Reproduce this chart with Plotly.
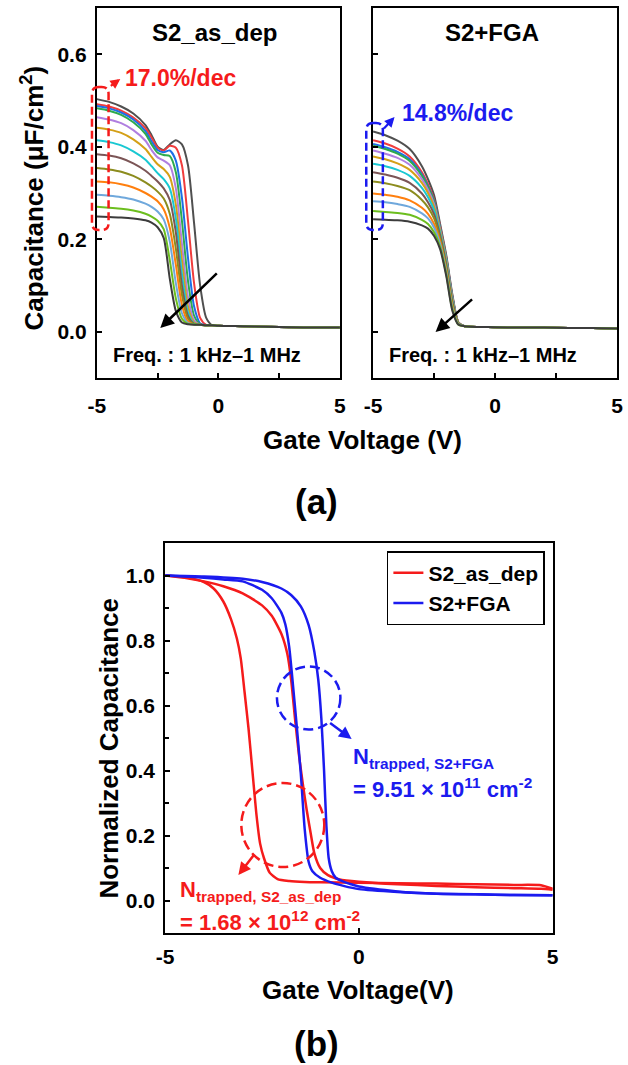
import plotly.graph_objects as go

W, H = 628, 1065
FONT = "Liberation Sans, Arial, sans-serif"

# ---------------- (a) left: S2_as_dep, 13 frequencies (1 kHz -> 1 MHz) ----------------
XA = [-5, -4.5, -4, -3.5, -3, -2.75, -2.5, -2.25, -2, -1.75, -1.5, -1.25, -1, -0.75, -0.5,
      -0.25, 0, 1, 2, 3, 4, 5]
TAIL_A = [0.014, 0.013, 0.012, 0.011, 0.010, 0.009, 0.009]
asdep_g1 = [0.503, 0.497, 0.487, 0.472, 0.447, 0.425, 0.400, 0.393, 0.405, 0.414, 0.405, 0.36, 0.235, 0.10, 0.03]
asdep_r = [0.492, 0.487, 0.478, 0.463, 0.440, 0.420, 0.398, 0.392, 0.402, 0.398, 0.36, 0.24, 0.105, 0.03, 0.015]
asdep_b = [0.488, 0.483, 0.474, 0.459, 0.434, 0.412, 0.393, 0.388, 0.392, 0.37, 0.29, 0.16, 0.055, 0.018, 0.014]
asdep_gr = [0.483, 0.478, 0.469, 0.453, 0.428, 0.405, 0.387, 0.382, 0.38, 0.345, 0.24, 0.11, 0.035, 0.016, 0.014]
asdep_p = [0.464, 0.459, 0.451, 0.436, 0.413, 0.393, 0.377, 0.37, 0.36, 0.31, 0.19, 0.075, 0.025, 0.015, 0.014]
asdep_au = [0.441, 0.437, 0.43, 0.416, 0.395, 0.378, 0.362, 0.352, 0.335, 0.275, 0.155, 0.055, 0.02, 0.015, 0.014]
asdep_c = [0.414, 0.41, 0.403, 0.39, 0.372, 0.358, 0.343, 0.33, 0.31, 0.245, 0.125, 0.042, 0.018, 0.015, 0.014]
asdep_br = [0.384, 0.381, 0.375, 0.364, 0.348, 0.337, 0.325, 0.31, 0.285, 0.215, 0.10, 0.034, 0.017, 0.015, 0.014]
asdep_o = [0.354, 0.351, 0.346, 0.337, 0.323, 0.314, 0.303, 0.288, 0.255, 0.18, 0.08, 0.028, 0.016, 0.015, 0.014]
asdep_or = [0.325, 0.323, 0.319, 0.312, 0.300, 0.292, 0.282, 0.265, 0.225, 0.145, 0.058, 0.022, 0.016, 0.015, 0.014]
asdep_lb = [0.296, 0.294, 0.291, 0.286, 0.277, 0.27, 0.26, 0.243, 0.195, 0.105, 0.04, 0.019, 0.016, 0.015, 0.014]
asdep_l = [0.27, 0.268, 0.266, 0.262, 0.255, 0.249, 0.24, 0.222, 0.155, 0.072, 0.028, 0.017, 0.016, 0.015, 0.014]
asdep_g2 = [0.249, 0.248, 0.247, 0.245, 0.241, 0.236, 0.226, 0.203, 0.115, 0.045, 0.02, 0.016, 0.015, 0.015, 0.014]

# ---------------- (a) right: S2+FGA ----------------
XB = [-5, -4.5, -4, -3.5, -3, -2.75, -2.5, -2.25, -2, -1.75, -1.5, -1.25, -1, 0, 1, 2, 3, 4, 5]
TAIL_B = [0.012, 0.011, 0.010, 0.009, 0.009, 0.008, 0.008, 0.007]
fga_g1 = [0.433, 0.425, 0.413, 0.395, 0.358, 0.33, 0.295, 0.232, 0.165, 0.08, 0.02]
fga_r = [0.414, 0.407, 0.396, 0.379, 0.345, 0.319, 0.286, 0.227, 0.16, 0.077, 0.02]
fga_b = [0.406, 0.399, 0.389, 0.373, 0.34, 0.315, 0.283, 0.224, 0.159, 0.075, 0.019]
fga_gr = [0.402, 0.395, 0.385, 0.369, 0.337, 0.313, 0.281, 0.223, 0.158, 0.074, 0.019]
fga_p = [0.392, 0.385, 0.376, 0.361, 0.33, 0.307, 0.276, 0.22, 0.155, 0.072, 0.019]
fga_au = [0.379, 0.373, 0.364, 0.350, 0.322, 0.3, 0.27, 0.217, 0.152, 0.07, 0.019]
fga_c = [0.363, 0.358, 0.35, 0.337, 0.311, 0.291, 0.263, 0.212, 0.148, 0.067, 0.018]
fga_br = [0.345, 0.34, 0.333, 0.322, 0.299, 0.28, 0.254, 0.207, 0.144, 0.064, 0.018]
fga_o = [0.325, 0.321, 0.315, 0.306, 0.285, 0.269, 0.245, 0.201, 0.139, 0.06, 0.017]
fga_or = [0.299, 0.296, 0.292, 0.284, 0.268, 0.255, 0.233, 0.194, 0.133, 0.055, 0.016]
fga_lb = [0.282, 0.28, 0.276, 0.27, 0.256, 0.245, 0.225, 0.189, 0.129, 0.052, 0.016]
fga_l = [0.261, 0.259, 0.257, 0.253, 0.242, 0.233, 0.215, 0.183, 0.124, 0.048, 0.015]
fga_g2 = [0.243, 0.242, 0.241, 0.238, 0.23, 0.223, 0.207, 0.178, 0.12, 0.045, 0.015]

FREQ_COLORS = ["#505050", "#F03C3C", "#1E6FE6", "#2EAA4E", "#B07FE0", "#D4A017", "#19C8D2",
               "#7B5556", "#8C8C1E", "#FF7F0E", "#6FA8DC", "#6CBE1E", "#3C3C3C"]
ASDEP = [asdep_g1, asdep_r, asdep_b, asdep_gr, asdep_p, asdep_au, asdep_c, asdep_br, asdep_o,
         asdep_or, asdep_lb, asdep_l, asdep_g2]
FGA = [fga_g1, fga_r, fga_b, fga_gr, fga_p, fga_au, fga_c, fga_br, fga_o, fga_or, fga_lb,
       fga_l, fga_g2]

# ---------------- (b) normalized C-V hysteresis ----------------
red_fwd_x = [-5, -4.5, -4, -3.75, -3.5, -3.3, -3.15, -3.05, -2.95, -2.85, -2.75, -2.65, -2.55,
             -2.45, -2.3, -2.1, -1.8, -1.4, -1, 0, 1, 2, 3, 4, 4.7, 5]
red_fwd_y = [1.0, 0.995, 0.98, 0.96, 0.92, 0.865, 0.806, 0.745, 0.64, 0.53, 0.40, 0.27, 0.175,
             0.13, 0.085, 0.066, 0.06, 0.057, 0.056, 0.055, 0.053, 0.052, 0.05, 0.048, 0.047, 0.036]
red_rev_x = [-5, -4.5, -4, -3.5, -3, -2.5, -2.25, -2.0, -1.85, -1.75, -1.65, -1.55, -1.45, -1.35,
             -1.25, -1.15, -1.0, -0.8, -0.5, 0, 1, 2, 3, 4, 4.7, 5]
red_rev_y = [1.0, 0.993, 0.982, 0.967, 0.945, 0.908, 0.876, 0.82, 0.76, 0.68, 0.56, 0.45, 0.36,
             0.28, 0.21, 0.145, 0.1, 0.078, 0.065, 0.058, 0.05, 0.045, 0.041, 0.038, 0.036, 0.033]
blue_fwd_x = [-5, -4.5, -4, -3.5, -3, -2.5, -2.25, -2.0, -1.9, -1.8, -1.7, -1.6, -1.5, -1.4, -1.3,
              -1.2, -1.0, -0.7, -0.4, 0, 1, 2, 3, 4, 5]
blue_fwd_y = [1.0, 0.997, 0.993, 0.988, 0.982, 0.956, 0.93, 0.885, 0.85, 0.78, 0.66, 0.53, 0.39,
              0.22, 0.12, 0.09, 0.07, 0.055, 0.045, 0.035, 0.026, 0.021, 0.019, 0.017, 0.016]
blue_rev_x = [-5, -4, -3, -2.5, -2, -1.75, -1.5, -1.3, -1.15, -1.05, -0.97, -0.9, -0.84, -0.78,
              -0.7, -0.6, -0.4, -0.2, 0, 1, 2, 3, 4, 5]
blue_rev_y = [1.0, 0.997, 0.99, 0.98, 0.96, 0.94, 0.905, 0.848, 0.765, 0.68, 0.56, 0.40, 0.23,
              0.13, 0.09, 0.07, 0.058, 0.05, 0.043, 0.028, 0.021, 0.019, 0.017, 0.016]

X_TICKS = [-5, 0, 5]
X_TICKTEXT = ["-5", "0", "5"]

RED, BLUE = "#F51B1B", "#1B1BEF"


def P(xp, yp):
    return xp / W, 1 - yp / H


fig = go.Figure()
for ys, col in zip(ASDEP, FREQ_COLORS):
    fig.add_trace(go.Scatter(x=XA, y=ys + TAIL_A, mode="lines", xaxis="x", yaxis="y",
                             line=dict(color=col, width=2, shape="spline", smoothing=0.7),
                             showlegend=False))
for ys, col in zip(FGA, FREQ_COLORS):
    fig.add_trace(go.Scatter(x=XB, y=ys + TAIL_B, mode="lines", xaxis="x2", yaxis="y2",
                             line=dict(color=col, width=2, shape="spline", smoothing=0.7),
                             showlegend=False))

for xs, ys, col, name, show in [
    (red_fwd_x, red_fwd_y, RED, "S2_as_dep", True),
    (red_rev_x, red_rev_y, RED, "S2_as_dep", False),
    (blue_fwd_x, blue_fwd_y, BLUE, "S2+FGA", True),
    (blue_rev_x, blue_rev_y, BLUE, "S2+FGA", False),
]:
    fig.add_trace(go.Scatter(x=xs, y=ys, mode="lines", xaxis="x3", yaxis="y3", name=name,
                             legendgroup=name, showlegend=show,
                             line=dict(color=col, width=2.5, shape="spline", smoothing=0.6)))

tickfont = dict(family=FONT, size=21, color="black", weight="bold")
base = dict(showline=True, linecolor="black", linewidth=2, mirror=True, ticks="inside",
            ticklen=5, tickwidth=1.5, tickcolor="black", showgrid=False, zeroline=False,
            tickfont=tickfont)
xbase = dict(base, range=[-5, 5], tickmode="array", tickvals=X_TICKS, ticktext=X_TICKTEXT)

fig.update_layout(
    width=W, height=H, margin=dict(l=0, r=0, t=0, b=0),
    paper_bgcolor="white", plot_bgcolor="white",
    xaxis=dict(xbase, domain=[90 / W, 339 / W], anchor="y",
               minor=dict(tickvals=[-2.5, 2.5], ticks="inside", ticklen=5, tickcolor="black"),
               ticklabelstandoff=8),
    yaxis=dict(base, domain=[1 - 378 / H, 1 - 8 / H], range=[-0.1, 0.7],
               tickvals=[0, 0.2, 0.4, 0.6], tickformat=".1f", anchor="x", ticklabelstandoff=4),
    xaxis2=dict(xbase, domain=[373 / W, 623 / W], anchor="y2",
                minor=dict(tickvals=[-2.5, 2.5], ticks="inside", ticklen=5, tickcolor="black"),
                ticklabelstandoff=8),
    yaxis2=dict(base, domain=[1 - 378 / H, 1 - 8 / H], range=[-0.1, 0.7],
                tickvals=[0, 0.2, 0.4, 0.6], showticklabels=False, anchor="x2"),
    xaxis3=dict(xbase, domain=[160 / W, 557 / W], anchor="y3", ticklabelstandoff=4),
    yaxis3=dict(base, domain=[1 - 933 / H, 1 - 543 / H], range=[-0.1, 1.1],
                tickvals=[0, 0.2, 0.4, 0.6, 0.8, 1.0], tickformat=".1f", anchor="x3",
                minor=dict(tickvals=[0.1, 0.3, 0.5, 0.7, 0.9], ticks="inside", ticklen=4,
                           tickcolor="black"),
                ticklabelstandoff=4),
    legend=dict(x=549 / W, y=1 - 551 / H, xanchor="right", yanchor="top", bgcolor="white",
                bordercolor="black", borderwidth=1.5, tracegroupgap=0,
                font=dict(family=FONT, size=21, color="black", weight="bold")),
)


def txt(text, xp, yp, size, color="black", xanchor="center", angle=0):
    x, y = P(xp, yp)
    return dict(text=text, x=x, y=y, xref="paper", yref="paper", showarrow=False,
                xanchor=xanchor, yanchor="middle", textangle=angle,
                font=dict(family=FONT, size=size, color=color, weight="bold"))


def arrow(x0, y0, x1, y1, color, width=2.5, size=1.0):
    x, y = P(x1, y1)
    return dict(text="", x=x, y=y, xref="paper", yref="paper", ax=x0 - x1, ay=y0 - y1,
                axref="pixel", ayref="pixel", showarrow=True, arrowhead=2, arrowsize=size,
                arrowwidth=width, arrowcolor=color)


annotations = [
    txt("S2_as_dep", 211, 33, 24),
    txt("S2+FGA", 495, 33, 24),
    txt("17.0%/dec", 117, 78, 23, RED, "left"),
    txt("14.8%/dec", 401, 113, 23, BLUE, "left"),
    txt("Freq. : 1 kHz\u20131 MHz", 104, 355, 20, "black", "left"),
    txt("Freq. : 1 kHz\u20131 MHz", 387, 355, 20, "black", "left"),
    txt("Capacitance (\u03bcF/cm<sup>2</sup>)", 25, 198, 26, angle=-90),
    txt("Gate Voltage (V)", 362, 440, 26),
    txt("(a)", 315, 501, 35),
    txt("Normalized Capacitance", 102, 748, 26, angle=-90),
    txt("Gate Voltage(V)", 358, 990, 26),
    txt("(b)", 315, 1043, 35),
    txt("N<sub>trapped, S2+FGA</sub>", 350, 758, 22, BLUE, "left"),
    txt("= 9.51 \u00d7 10<sup>11</sup> cm<sup>-2</sup>", 350, 788, 22, BLUE, "left"),
    txt("N<sub>trapped, S2_as_dep</sub>", 173, 891, 22, RED, "left"),
    txt("= 1.68 \u00d7 10<sup>12</sup> cm<sup>-2</sup>", 173, 921, 22, RED, "left"),
    arrow(103, 87, 114, 79, RED, 2.2, 0.9),
    arrow(383, 130, 395, 117, BLUE, 2.2, 0.9),
    arrow(213, 272, 155, 328, "black", 2.5, 1.1),
    arrow(475, 298, 437, 332, "black", 2.5, 1.1),
    arrow(328, 722, 351, 739, BLUE, 2.5, 1.0),
    arrow(252, 853, 235, 875, RED, 2.5, 1.0),
]


def rrect(x0, y0, x1, y1, r):
    pts = lambda a, b: "%.5f,%.5f" % P(a, b)
    return ("M " + pts(x0 + r, y0) + " L " + pts(x1 - r, y0) + " Q " + pts(x1, y0) + " " + pts(x1, y0 + r)
            + " L " + pts(x1, y1 - r) + " Q " + pts(x1, y1) + " " + pts(x1 - r, y1)
            + " L " + pts(x0 + r, y1) + " Q " + pts(x0, y1) + " " + pts(x0, y1 - r)
            + " L " + pts(x0, y0 + r) + " Q " + pts(x0, y0) + " " + pts(x0 + r, y0) + " Z")


def ellipse(cx, cy, rx, ry, color):
    x0, y1 = P(cx - rx, cy - ry)
    x1, y0 = P(cx + rx, cy + ry)
    return dict(type="circle", xref="paper", yref="paper", x0=x0, x1=x1, y0=y0, y1=y1,
                line=dict(color=color, width=2.5, dash="10px,5px"))


shapes = [
    dict(type="path", xref="paper", yref="paper", path=rrect(85, 87, 102, 230, 7),
         line=dict(color=RED, width=2.5, dash="8px,4px")),
    dict(type="path", xref="paper", yref="paper", path=rrect(366, 123, 383, 230, 7),
         line=dict(color=BLUE, width=2.5, dash="8px,4px")),
    ellipse(307, 698, 32.5, 31.5, BLUE),
    ellipse(280.5, 825, 42.5, 42, RED),
]

fig.update_layout(annotations=annotations, shapes=shapes)
fig.write_html("out.html", config={"displayModeBar": False},
               post_script="document.body.style.margin='0px';"
                           "document.documentElement.style.overflow='hidden';")
